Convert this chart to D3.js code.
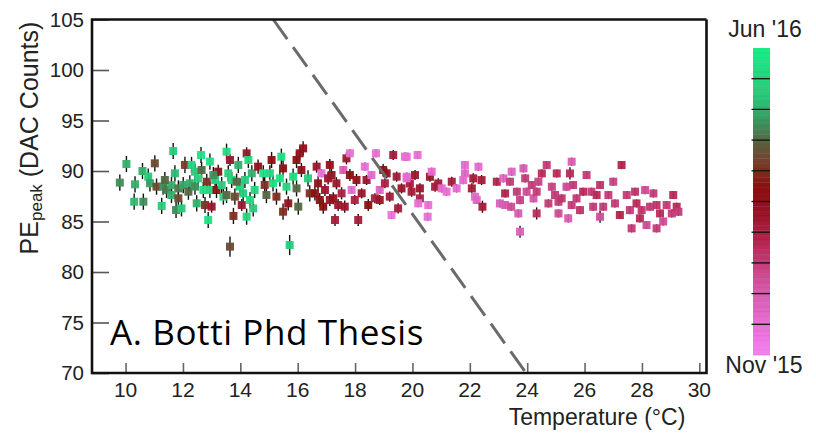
<!DOCTYPE html>
<html>
<head>
<meta charset="utf-8">
<script src="https://cdn.jsdelivr.net/npm/d3@7"></script>
<style>
  html, body { margin: 0; padding: 0; background: #fff; }
  svg { display: block; }
</style>
</head>
<body>
<svg id="chart" width="816" height="436"></svg>
<script>
// PE peak vs. temperature, each point coloured by date (Nov '15 -> Jun '16)
// rows: [temperature °C, PE peak (DAC counts), date fraction 0=Nov'15 .. 1=Jun'16, error]
const measurements = [
  // cool months (May–Jun), green
  [9.80, 88.85, .75, .8], [10.03, 90.69, .80, .8], [10.33, 88.68, .80, .8], [10.59, 90.00, .80, .8],
  [10.30, 86.96, .82, .8], [10.62, 86.96, .75, .8], [11.02, 90.76, .65, .8], [10.79, 89.44, .85, .8],
  [10.85, 88.78, .78, .8], [11.66, 91.98, .85, .8], [11.26, 86.54, .85, .8], [11.76, 86.14, .75, .8],
  [11.95, 86.30, .85, .8], [11.08, 88.45, .65, .8], [11.31, 88.45, .75, .8], [11.43, 88.12, .72, .8],
  [11.60, 88.60, .80, .8], [11.72, 89.77, .82, .8], [11.84, 88.28, .72, .8], [12.01, 88.60, .78, .8],
  [12.07, 90.60, .62, .8], [12.24, 88.78, .80, .8], [12.30, 90.60, .90, .8], [12.42, 89.93, .85, .8],
  [12.48, 86.80, .80, .8], [12.63, 91.58, .95, .8], [12.65, 90.10, .70, .8], [12.71, 88.12, .95, .8],
  [12.77, 86.63, .60, .8], [12.94, 90.93, .95, .8], [12.94, 88.12, .90, .8], [13.00, 86.47, .45, .6],
  [13.12, 89.11, .90, .8], [13.23, 89.93, .50, .7], [13.41, 87.46, .90, .8], [13.52, 91.91, .92, .8],
  [13.58, 89.77, .88, .8], [13.64, 91.09, .45, .6], [13.70, 89.11, .90, .8], [13.81, 87.46, .65, .8],
  [13.93, 90.60, .80, .8], [13.99, 88.45, .92, .8], [14.05, 86.63, .45, .6], [14.22, 91.75, .45, .6],
  [14.28, 91.09, .92, .8], [14.34, 87.13, .92, .8], [14.40, 89.77, .80, .8], [14.22, 85.48, .90, .8],
  [13.76, 85.55, .60, .8], [12.88, 85.15, .95, .8], [13.64, 82.51, .65, 1.0], [11.37, 89.11, .70, .8],
  [12.19, 87.95, .70, .8], [12.42, 88.45, .75, .8], [12.53, 89.27, .90, .8], [12.83, 88.94, .60, .8],
  [13.06, 89.60, .75, .8], [13.17, 88.12, .55, .8], [13.35, 88.60, .85, .8], [13.52, 87.62, .70, .8],
  [13.87, 88.94, .70, .8], [14.16, 89.11, .85, .8], [14.10, 87.79, .85, .8], [11.60, 87.62, .80, .8],
  [11.84, 87.30, .65, .8],
  // spring transition (Mar–Apr), green / brown / dark red, with November pinks
  [14.62, 90.43, .50, .7], [14.80, 89.77, .95, .8], [14.50, 88.12, .90, .8], [14.45, 86.30, .85, .8],
  [15.09, 91.09, .55, .8], [15.03, 89.77, .90, .8], [15.14, 88.78, .92, .8], [15.43, 91.42, .92, .8],
  [15.49, 90.26, .55, .8], [15.38, 89.27, .95, .8], [15.61, 88.45, .90, .8], [14.91, 87.62, .70, .8],
  [15.26, 87.46, .60, .8], [15.49, 85.97, .60, .8], [15.67, 86.80, .50, .7], [15.84, 89.44, .92, .8],
  [15.96, 88.28, .70, .8], [16.02, 86.47, .70, .8], [15.96, 91.09, .55, .8], [16.07, 91.75, .50, .7],
  [16.19, 92.24, .50, .7], [16.13, 90.10, .50, .7], [16.36, 89.27, .85, .8], [16.42, 87.79, .60, .8],
  [16.66, 90.43, .45, .6], [16.71, 88.78, .50, .7], [16.77, 87.13, .55, .7], [16.89, 86.47, .55, .7],
  [16.95, 88.12, .45, .6], [17.12, 90.60, .50, .6], [17.18, 89.60, .50, .6], [17.12, 87.13, .45, .6],
  [17.30, 85.15, .42, .6], [17.35, 88.78, .45, .6], [17.41, 86.63, .45, .6], [17.64, 86.47, .45, .6],
  [17.59, 90.10, .20, .4], [17.53, 87.79, .40, .6], [17.70, 91.25, .45, .6], [17.82, 91.75, .10, .4],
  [17.82, 89.60, .55, .6], [17.88, 88.12, .12, .4], [17.99, 87.13, .40, .5], [18.05, 89.11, .50, .6],
  [18.11, 85.15, .42, .6], [18.23, 87.79, .45, .5], [18.34, 90.43, .10, .4], [18.40, 89.11, .45, .5],
  [18.46, 86.63, .55, .6], [18.57, 89.60, .12, .4], [18.69, 87.30, .40, .5], [18.73, 91.75, .10, .4],
  [18.86, 87.13, .45, .5], [18.86, 88.12, .15, .4], [18.98, 90.10, .55, .6], [19.04, 88.78, .40, .5],
  [19.10, 89.77, .50, .5], [19.21, 87.46, .42, .5], [19.27, 85.64, .08, .4], [19.33, 91.58, .42, .5],
  [19.45, 89.44, .42, .5], [19.50, 86.30, .42, .5], [19.62, 88.28, .45, .5], [19.74, 91.42, .10, .4],
  [19.80, 89.44, .12, .4], [17.24, 87.30, .50, .6], [15.72, 82.67, .85, 1.0], [16.83, 89.77, .10, .4],
  [17.06, 89.27, .45, .6], [16.60, 87.79, .55, .7], [14.85, 88.62, .60, .8],
  // November pinks and warm-season crimson
  [19.80, 91.41, .10, .4], [20.18, 91.58, .10, .4], [20.09, 89.60, .45, .5], [19.91, 88.77, .42, .5],
  [19.80, 89.27, .12, .4], [19.97, 87.95, .42, .5], [20.26, 88.28, .45, .5], [20.26, 87.29, .40, .5],
  [20.20, 86.80, .10, .4], [20.55, 86.63, .10, .4], [20.53, 85.47, .10, .4], [20.61, 89.43, .45, .5],
  [20.67, 89.93, .12, .4], [20.79, 88.44, .42, .5], [20.90, 88.77, .42, .5], [21.02, 88.28, .12, .4],
  [21.19, 87.95, .10, .4], [21.37, 88.94, .42, .5], [21.54, 88.28, .12, .4], [21.83, 90.59, .12, .4],
  [21.83, 89.76, .15, .4], [21.77, 89.10, .12, .4], [22.07, 88.28, .42, .5], [22.12, 89.27, .42, .5],
  [22.18, 87.45, .12, .4], [22.24, 87.13, .15, .4], [22.30, 90.42, .12, .4], [22.41, 89.10, .42, .5],
  [22.44, 86.46, .42, .6], [22.94, 88.94, .38, .4], [23.17, 89.27, .15, .4], [23.23, 87.78, .38, .4],
  [23.05, 86.79, .18, .4], [23.23, 86.63, .20, .4], [23.40, 88.94, .30, .4], [23.46, 89.93, .15, .4],
  [23.44, 86.46, .25, .4], [23.64, 87.95, .30, .4], [23.69, 85.80, .20, .4], [23.75, 87.12, .28, .4],
  [23.87, 90.26, .20, .4], [23.75, 83.99, .18, .6], [23.93, 89.27, .30, .4], [23.98, 87.95, .25, .4],
  [24.16, 88.61, .30, .4], [24.22, 87.29, .22, .4], [24.33, 85.80, .35, .6], [24.33, 87.95, .30, .4],
  [24.39, 88.94, .28, .4], [24.51, 89.76, .35, .4], [24.68, 90.59, .30, .4], [24.74, 86.79, .30, .4],
  [24.86, 88.44, .28, .4], [25.03, 89.76, .35, .4], [25.09, 86.96, .30, .4], [25.09, 85.80, .25, .4],
  [24.97, 87.62, .30, .4],
  [25.55, 90.92, .20, .4], [25.49, 89.76, .35, .6], [25.37, 88.44, .25, .4], [25.60, 88.61, .30, .4],
  [25.20, 87.29, .32, .4], [25.55, 86.63, .30, .4], [25.43, 85.31, .20, .4], [25.84, 86.13, .32, .4],
  [25.95, 87.95, .35, .4], [25.72, 87.29, .30, .4], [26.24, 87.95, .30, .4], [26.30, 86.46, .30, .4],
  [26.54, 88.61, .32, .4], [26.54, 85.47, .25, .6], [26.65, 86.46, .30, .4], [26.83, 87.62, .30, .4],
  [27.00, 88.94, .28, .4], [27.06, 86.79, .30, .4], [27.29, 90.59, .38, .4], [27.23, 85.64, .38, .4],
  [27.47, 87.62, .30, .4], [27.58, 86.13, .30, .4], [27.64, 84.32, .30, .4], [27.76, 87.95, .32, .4],
  [27.81, 86.79, .35, .4], [27.93, 85.31, .35, .4], [28.11, 88.11, .25, .4], [28.16, 84.65, .25, .4],
  [28.28, 86.46, .30, .4], [28.40, 87.78, .30, .4], [28.51, 86.63, .32, .4], [28.51, 84.32, .30, .4],
  [28.63, 85.80, .35, .4], [28.74, 85.00, .25, .4], [28.86, 86.63, .30, .4], [29.09, 87.62, .35, .4],
  [29.04, 85.80, .30, .4], [29.21, 86.46, .35, .4], [29.27, 85.96, .30, .4], [27.99, 86.13, .32, .4],
  [26.42, 87.62, .35, .4], [26.07, 89.60, .30, .4]
];

// dashed reference line, two end points [temperature, PE]
const cutLine = [[15.15, 105], [23.96, 70]];

// axes
const xDomain = [8.83, 30.25];
const yDomain = [70, 105];
const xTicks = [10, 12, 14, 16, 18, 20, 22, 24, 26, 28, 30];
const yTicks = [70, 75, 80, 85, 90, 95, 100, 105];

// date colour map, from Nov '15 (0) to Jun '16 (1)
const colorOffsets = [0.00, 0.10, 0.22, 0.35, 0.47, 0.55, 0.62, 0.69, 0.76, 0.84, 1.00];
const colorValues  = ["#f580f2", "#e870d6", "#d558aa", "#bb2a5a", "#961222", "#8a1010",
                      "#7a3a28", "#5a6040", "#3c9660", "#2ac87a", "#18ee88"];
const colorbarTicks = [0.10, 0.20, 0.30, 0.40, 0.50, 0.60, 0.70, 0.80, 0.90];
const colorbarLabels = ["Nov '15", "Jun '16"];

const svg = d3.select("#chart");
const plot = { left: 92, right: 706.5, top: 19.5, bottom: 373 };

const x = d3.scaleLinear().domain(xDomain).range([plot.left, plot.right]);
const y = d3.scaleLinear().domain(yDomain).range([plot.bottom, plot.top]);
const color = d3.scaleLinear().domain(colorOffsets).range(colorValues).interpolate(d3.interpolateRgb);

const font = "'Liberation Sans', Arial, Helvetica, sans-serif";

// tick marks pointing into the plot
const yAxis = svg.append("g")
  .attr("transform", `translate(${plot.left},0)`)
  .call(d3.axisRight(y).tickValues(yTicks).tickSize(17).tickFormat(""));
yAxis.select(".domain").remove();
yAxis.selectAll(".tick line").attr("stroke", "#555").attr("stroke-width", 1.6);

const xAxis = svg.append("g")
  .attr("transform", `translate(0,${plot.bottom})`)
  .call(d3.axisTop(x).tickValues(xTicks).tickSize(10).tickFormat(""));
xAxis.select(".domain").remove();
xAxis.selectAll(".tick line").attr("stroke", "#666").attr("stroke-width", 1.6);

// tick labels
svg.append("g").selectAll("text").data(yTicks).join("text")
  .attr("x", 84).attr("y", d => y(d))
  .attr("dy", "0.35em")
  .attr("text-anchor", "end")
  .attr("font-family", font).attr("font-size", 20.5).attr("fill", "#222")
  .text(d => d);

svg.append("g").selectAll("text").data(xTicks).join("text")
  .attr("x", d => x(d)).attr("y", 397)
  .attr("text-anchor", "middle")
  .attr("font-family", font).attr("font-size", 21).attr("fill", "#222")
  .text(d => d);

// axis titles
svg.append("text")
  .attr("x", 597).attr("y", 425)
  .attr("text-anchor", "middle")
  .attr("font-family", font).attr("font-size", 23).attr("fill", "#222")
  .text("Temperature (°C)");

const yTitle = svg.append("text")
  .attr("transform", "translate(38,138) rotate(-90)")
  .attr("text-anchor", "middle")
  .attr("font-family", font).attr("font-size", 25).attr("fill", "#222");
yTitle.append("tspan").text("PE");
yTitle.append("tspan").attr("font-size", 17).attr("dy", 4).text("peak");
yTitle.append("tspan").attr("dy", -4).text(" (DAC Counts)");

// error bars and points
const pts = svg.append("g");
pts.selectAll("line").data(measurements).join("line")
  .attr("x1", d => x(d[0])).attr("x2", d => x(d[0]))
  .attr("y1", d => y(d[1] - d[3])).attr("y2", d => y(d[1] + d[3]))
  .attr("stroke", "#111").attr("stroke-width", 1.4);

pts.selectAll("rect").data(measurements).join("rect")
  .attr("x", d => x(d[0]) - 4).attr("y", d => y(d[1]) - 4)
  .attr("width", 8).attr("height", 8)
  .attr("fill", d => color(d[2]))
  .attr("fill-opacity", 0.95);

// dashed cut line
svg.append("path")
  .attr("d", d3.line().x(d => x(d[0])).y(d => y(d[1]))(cutLine))
  .attr("stroke", "#6a6a6a").attr("stroke-width", 3)
  .attr("stroke-dasharray", "24,10").attr("fill", "none");

// frame
svg.append("path")
  .attr("d", `M${plot.right},${plot.top} H${plot.left} V${plot.bottom} H${plot.right} V${plot.top}`)
  .attr("fill", "none").attr("stroke", "#111").attr("stroke-width", 2.6);

// annotation
svg.append("text")
  .attr("x", 110).attr("y", 345)
  .attr("font-family", "'Open Sans', 'Noto Sans', sans-serif")
  .attr("font-size", 35).attr("letter-spacing", 0.6).attr("fill", "#000")
  .text("A. Botti Phd Thesis");

// colour bar
const cb = { x: 753, width: 17, top: 48, bottom: 355 };
const cbScale = d3.scaleLinear().domain([0, 1]).range([cb.bottom, cb.top]);
const strips = d3.range(0, 1, 1 / 64);
svg.append("g").selectAll("rect").data(strips).join("rect")
  .attr("x", cb.x).attr("width", cb.width)
  .attr("y", d => cbScale(d + 1 / 64)).attr("height", cbScale(0) - cbScale(1 / 64) + 0.3)
  .attr("fill", d => color(d + 0.5 / 64));
svg.append("g").selectAll("line").data(strips).join("line")
  .attr("x1", cb.x).attr("x2", cb.x + cb.width)
  .attr("y1", d => cbScale(d)).attr("y2", d => cbScale(d))
  .attr("stroke", "#000").attr("stroke-opacity", 0.1).attr("stroke-width", 0.6);
svg.append("g").selectAll("line").data(colorbarTicks).join("line")
  .attr("x1", cb.x - 1.5).attr("x2", cb.x + cb.width)
  .attr("y1", d => cbScale(d)).attr("y2", d => cbScale(d))
  .attr("stroke", "#111").attr("stroke-width", 1.3);

svg.append("text")
  .attr("x", 765).attr("y", 37).attr("text-anchor", "middle")
  .attr("font-family", font).attr("font-size", 23).attr("fill", "#222")
  .text(colorbarLabels[1]);
svg.append("text")
  .attr("x", 764).attr("y", 373).attr("text-anchor", "middle")
  .attr("font-family", font).attr("font-size", 23).attr("fill", "#222")
  .text(colorbarLabels[0]);
</script>
</body>
</html>
